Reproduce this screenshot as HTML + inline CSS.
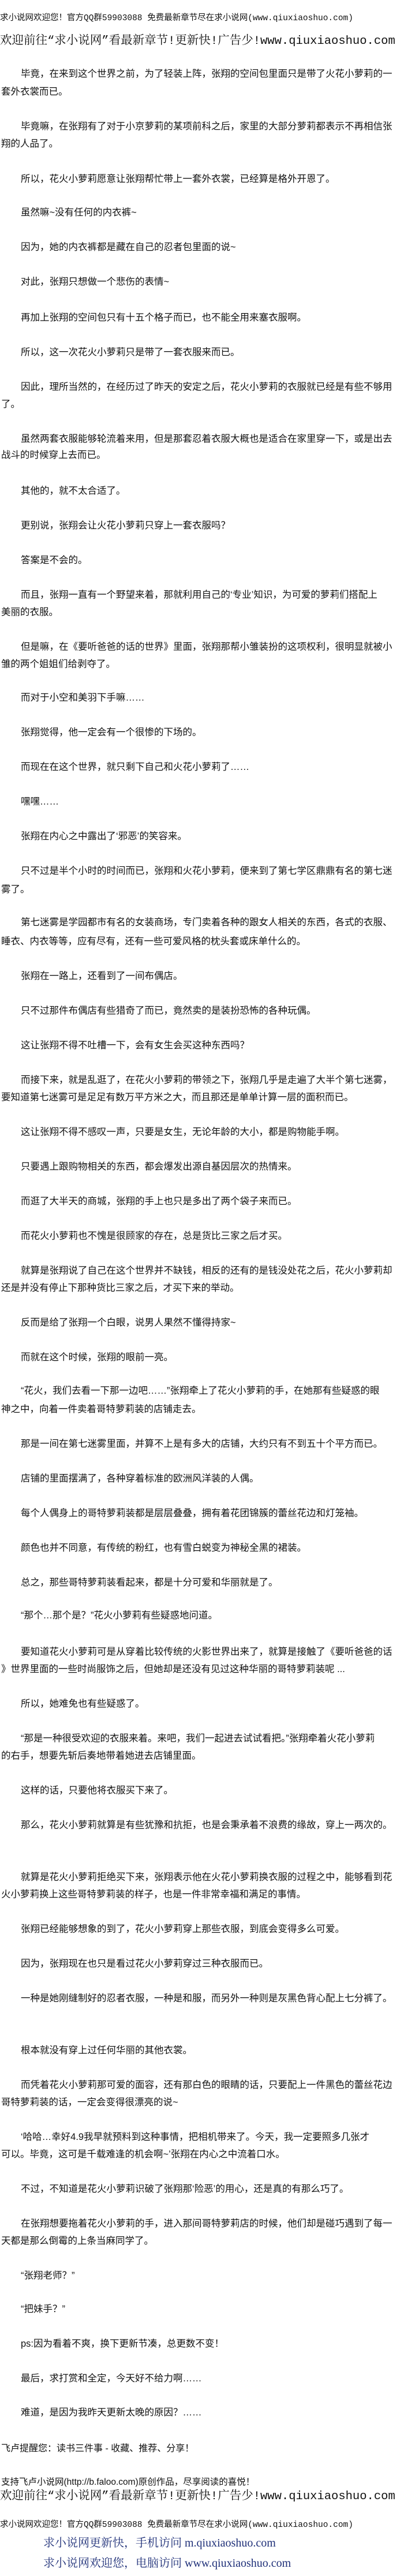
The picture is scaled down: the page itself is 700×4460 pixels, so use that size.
<!DOCTYPE html>
<html><head><meta charset="utf-8"><style>
html,body{margin:0;padding:0;background:#fff;}
body{width:700px;height:4460px;position:relative;overflow:hidden;color:#111;font-family:"Liberation Sans","Noto Sans CJK SC",sans-serif;}
.l{position:absolute;left:2px;white-space:nowrap;font-size:16.5px;line-height:30px;height:30px;}
.i{padding-left:34px;}
.h1{position:absolute;left:0;white-space:nowrap;font-size:14.5px;line-height:20px;font-family:"Liberation Mono","Noto Sans CJK SC",monospace;}
.h2{position:absolute;left:0;white-space:nowrap;font-size:20.5px;line-height:28px;font-family:"Liberation Mono","Noto Serif CJK SC",monospace;}
.b{position:absolute;left:75px;white-space:nowrap;font-size:20px;line-height:26px;color:#1e2f78;font-family:"Liberation Serif","Noto Serif CJK SC",serif;}
</style></head><body>
<div class="h1" style="top:22px">求小说网欢迎您！官方QQ群59903088 免费最新章节尽在求小说网(www.qiuxiaoshuo.com)</div>
<div class="h2" style="top:58px">欢迎前往“求小说网”看最新章节!更新快!广告少!www.qiuxiaoshuo.com</div>

<div class="l i" style="top:113px">毕竟，在来到这个世界之前，为了轻装上阵，张翔的空间包里面只是带了火花小萝莉的一</div>
<div class="l" style="top:144px">套外衣裳而已。</div>
<div class="l i" style="top:204px">毕竟嘛，在张翔有了对于小京萝莉的某项前科之后，家里的大部分萝莉都表示不再相信张</div>
<div class="l" style="top:234px">翔的人品了。</div>
<div class="l i" style="top:295px">所以，花火小萝莉愿意让张翔帮忙带上一套外衣裳，已经算是格外开恩了。</div>
<div class="l i" style="top:353px">虽然嘛~没有任何的内衣裤~</div>
<div class="l i" style="top:413px">因为，她的内衣裤都是藏在自己的忍者包里面的说~</div>
<div class="l i" style="top:473px">对此，张翔只想做一个悲伤的表情~</div>
<div class="l i" style="top:535px">再加上张翔的空间包只有十五个格子而已，也不能全用来塞衣服啊。</div>
<div class="l i" style="top:595px">所以，这一次花火小萝莉只是带了一套衣服来而已。</div>
<div class="l i" style="top:655px">因此，理所当然的，在经历过了昨天的安定之后，花火小萝莉的衣服就已经是有些不够用</div>
<div class="l" style="top:685px">了。</div>
<div class="l i" style="top:745px">虽然两套衣服能够轮流着来用，但是那套忍着衣服大概也是适合在家里穿一下，或是出去</div>
<div class="l" style="top:773px">战斗的时候穿上去而已。</div>
<div class="l i" style="top:835px">其他的，就不太合适了。</div>
<div class="l i" style="top:895px">更别说，张翔会让火花小萝莉只穿上一套衣服吗？</div>
<div class="l i" style="top:955px">答案是不会的。</div>
<div class="l i" style="top:1015px">而且，张翔一直有一个野望来着，那就利用自己的‘专业’知识，为可爱的萝莉们搭配上</div>
<div class="l" style="top:1045px">美丽的衣服。</div>
<div class="l i" style="top:1105px">但是嘛，在《要听爸爸的话的世界》里面，张翔那帮小雏装扮的这项权利，很明显就被小</div>
<div class="l" style="top:1135px">雏的两个姐姐们给剥夺了。</div>
<div class="l i" style="top:1193px">而对于小空和美羽下手嘛……</div>
<div class="l i" style="top:1253px">张翔觉得，他一定会有一个很惨的下场的。</div>
<div class="l i" style="top:1313px">而现在在这个世界，就只剩下自己和火花小萝莉了……</div>
<div class="l i" style="top:1373px">嘿嘿……</div>
<div class="l i" style="top:1433px">张翔在内心之中露出了‘邪恶’的笑容来。</div>
<div class="l i" style="top:1493px">只不过是半个小时的时间而已，张翔和火花小萝莉，便来到了第七学区鼎鼎有名的第七迷</div>
<div class="l" style="top:1525px">雾了。</div>
<div class="l i" style="top:1582px">第七迷雾是学园都市有名的女装商场，专门卖着各种的跟女人相关的东西，各式的衣服、</div>
<div class="l" style="top:1615px">睡衣、内衣等等，应有尽有，还有一些可爱风格的枕头套或床单什么的。</div>
<div class="l i" style="top:1675px">张翔在一路上，还看到了一间布偶店。</div>
<div class="l i" style="top:1735px">只不过那件布偶店有些猎奇了而已，竟然卖的是装扮恐怖的各种玩偶。</div>
<div class="l i" style="top:1795px">这让张翔不得不吐槽一下，会有女生会买这种东西吗？</div>
<div class="l i" style="top:1855px">而接下来，就是乱逛了，在花火小萝莉的带领之下，张翔几乎是走遍了大半个第七迷雾，</div>
<div class="l" style="top:1885px">要知道第七迷雾可是足足有数万平方米之大，而且那还是单单计算一层的面积而已。</div>
<div class="l i" style="top:1945px">这让张翔不得不感叹一声，只要是女生，无论年龄的大小，都是购物能手啊。</div>
<div class="l i" style="top:2005px">只要遇上跟购物相关的东西，都会爆发出源自基因层次的热情来。</div>
<div class="l i" style="top:2065px">而逛了大半天的商城，张翔的手上也只是多出了两个袋子来而已。</div>
<div class="l i" style="top:2125px">而花火小萝莉也不愧是很顾家的存在，总是货比三家之后才买。</div>
<div class="l i" style="top:2185px">就算是张翔说了自己在这个世界并不缺钱，相反的还有的是钱没处花之后，花火小萝莉却</div>
<div class="l" style="top:2215px">还是并没有停止下那种货比三家之后，才买下来的举动。</div>
<div class="l i" style="top:2275px">反而是给了张翔一个白眼，说男人果然不懂得持家~</div>
<div class="l i" style="top:2335px">而就在这个时候，张翔的眼前一亮。</div>
<div class="l i" style="top:2393px">“花火，我们去看一下那一边吧……”张翔牵上了花火小萝莉的手，在她那有些疑惑的眼</div>
<div class="l" style="top:2425px">神之中，向着一件卖着哥特萝莉装的店铺走去。</div>
<div class="l i" style="top:2485px">那是一间在第七迷雾里面，并算不上是有多大的店铺，大约只有不到五十个平方而已。</div>
<div class="l i" style="top:2545px">店铺的里面摆满了，各种穿着标准的欧洲风洋装的人偶。</div>
<div class="l i" style="top:2605px">每个人偶身上的哥特萝莉装都是层层叠叠，拥有着花团锦簇的蕾丝花边和灯笼袖。</div>
<div class="l i" style="top:2665px">颜色也并不同意，有传统的粉红，也有雪白蜕变为神秘全黑的裙装。</div>
<div class="l i" style="top:2725px">总之，那些哥特萝莉装看起来，都是十分可爱和华丽就是了。</div>
<div class="l i" style="top:2782px">“那个…那个是？”花火小萝莉有些疑惑地问道。</div>
<div class="l i" style="top:2845px">要知道花火小萝莉可是从穿着比较传统的火影世界出来了，就算是接触了《要听爸爸的话</div>
<div class="l" style="top:2875px">》世界里面的一些时尚服饰之后，但她却是还没有见过这种华丽的哥特萝莉装呢 ...</div>
<div class="l i" style="top:2935px">所以，她难免也有些疑惑了。</div>
<div class="l i" style="top:2995px">“那是一种很受欢迎的衣服来着。来吧，我们一起进去试试看把。”张翔牵着火花小萝莉</div>
<div class="l" style="top:3025px">的右手，想要先斩后奏地带着她进去店铺里面。</div>
<div class="l i" style="top:3085px">这样的话，只要他将衣服买下来了。</div>
<div class="l i" style="top:3145px">那么，花火小萝莉就算是有些犹豫和抗拒，也是会秉承着不浪费的缘故，穿上一两次的。</div>
<div class="l i" style="top:3235px">就算是花火小萝莉拒绝买下来，张翔表示他在火花小萝莉换衣服的过程之中，能够看到花</div>
<div class="l" style="top:3265px">火小萝莉换上这些哥特萝莉装的样子，也是一件非常幸福和满足的事情。</div>
<div class="l i" style="top:3325px">张翔已经能够想象的到了，花火小萝莉穿上那些衣服，到底会变得多么可爱。</div>
<div class="l i" style="top:3385px">因为，张翔现在也只是看过花火小萝莉穿过三种衣服而已。</div>
<div class="l i" style="top:3445px">一种是她刚缝制好的忍者衣服，一种是和服，而另外一种则是灰黑色背心配上七分裤了。</div>
<div class="l i" style="top:3535px">根本就没有穿上过任何华丽的其他衣裳。</div>
<div class="l i" style="top:3595px">而凭着花火小萝莉那可爱的面容，还有那白色的眼睛的话，只要配上一件黑色的蕾丝花边</div>
<div class="l" style="top:3625px">哥特萝莉装的话，一定会变得很漂亮的说~</div>
<div class="l i" style="top:3685px">‘哈哈…幸好4.9我早就预料到这种事情，把相机带来了。今天，我一定要照多几张才</div>
<div class="l" style="top:3715px">可以。毕竟，这可是千载难逢的机会啊~’张翔在内心之中流着口水。</div>
<div class="l i" style="top:3775px">不过，不知道是花火小萝莉识破了张翔那‘险恶’的用心，还是真的有那么巧了。</div>
<div class="l i" style="top:3835px">在张翔想要拖着花火小萝莉的手，进入那间哥特萝莉店的时候，他们却是碰巧遇到了每一</div>
<div class="l" style="top:3865px">天都是那么倒霉的上条当麻同学了。</div>
<div class="l i" style="top:3925px">“张翔老师？”</div>
<div class="l i" style="top:3983px">“把妹手？”</div>
<div class="l i" style="top:4043px">ps:因为看着不爽，换下更新节凑，总更数不变！</div>
<div class="l i" style="top:4103px">最后，求打赏和全定，今天好不给力啊……</div>
<div class="l i" style="top:4162px">难道，是因为我昨天更新太晚的原因？……</div>
<div class="l" style="top:4225px;font-size:16px">飞卢提醒您：读书三件事 - 收藏、推荐、分享！</div>
<div class="l" style="top:4287px;font-size:15.5px;line-height:22px;height:22px">支持飞卢小说网(http://b.faloo.com)原创作品，尽享阅读的喜悦！</div>
<div class="h2" style="top:4309px">欢迎前往“求小说网”看最新章节!更新快!广告少!www.qiuxiaoshuo.com</div>
<div class="h1" style="top:4362px">求小说网欢迎您！官方QQ群59903088 免费最新章节尽在求小说网(www.qiuxiaoshuo.com)</div>
<div class="b" style="top:4390px">求小说网更新快，手机访问 m.qiuxiaoshuo.com</div>
<div class="b" style="top:4425px">求小说网欢迎您，电脑访问 www.qiuxiaoshuo.com</div>
</body></html>
